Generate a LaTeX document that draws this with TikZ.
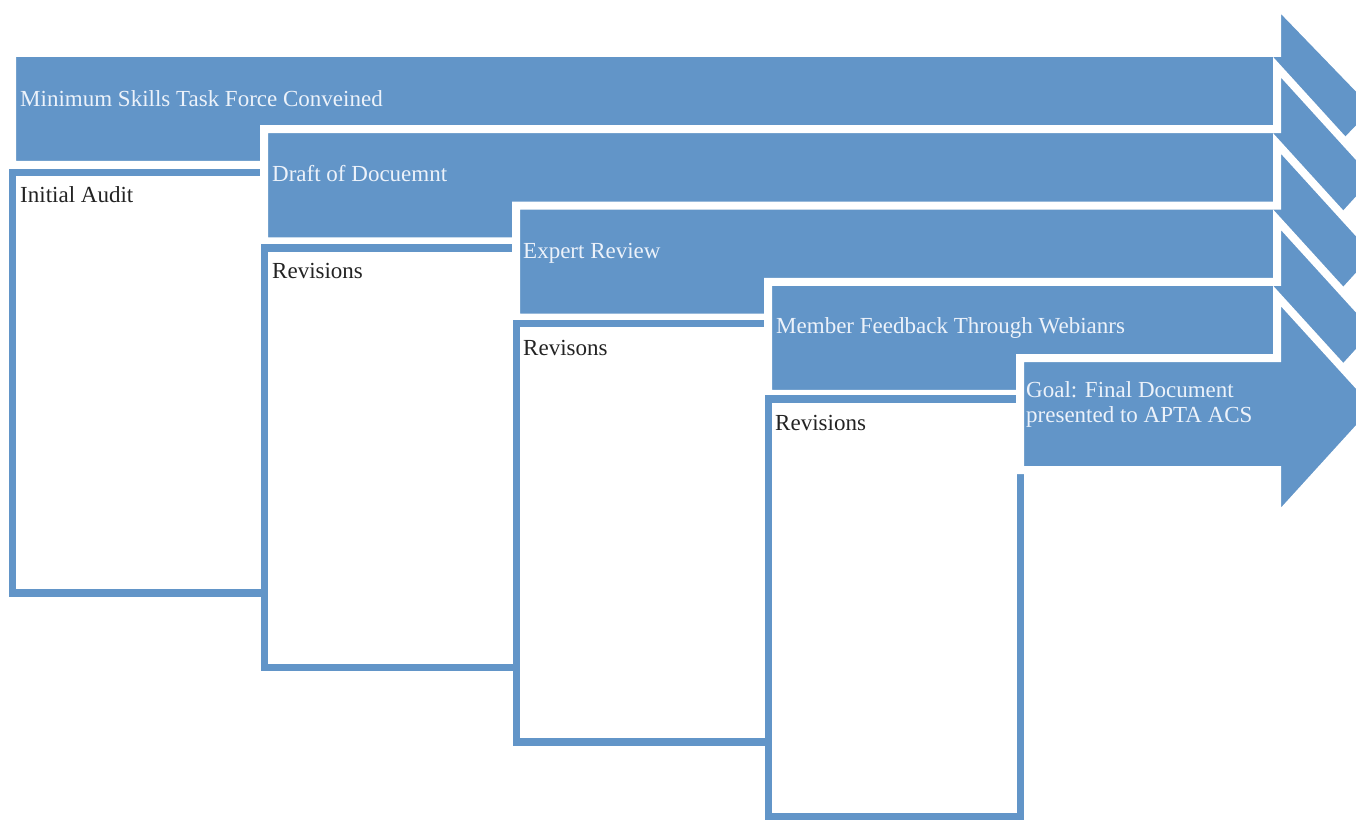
\documentclass[tikz,border=0pt]{standalone}
\usepackage{fontspec}
\setmainfont{Liberation Serif}
\definecolor{sablue}{RGB}{98,149,200}
\definecolor{satext}{RGB}{236,242,250}
\definecolor{boxtext}{RGB}{35,35,35}
\begin{document}
\begin{tikzpicture}[x=1pt,y=-1pt,
  arrowshape/.style={fill=sablue,draw=white,line width=8pt,line join=miter},
  boxshape/.style={draw=sablue,fill=white,line width=7.5pt},
  atext/.style={anchor=base west,inner sep=0pt,text=satext,font=\fontsize{23}{25}\selectfont},
  btext/.style={anchor=base west,inner sep=0pt,text=boxtext,font=\fontsize{23}{25}\selectfont}]
\useasboundingbox (0,0) rectangle (1356,821);
% arrow 1
\path[arrowshape] (12,53) -- (1277,53) -- (1277,4) -- (1378,108.5) -- (1277,213) -- (1277,165) -- (12,165) -- cycle;
\path[boxshape] (12.5,172.5) rectangle (264.5,593);
% arrow 2
\path[arrowshape] (264,129.25) -- (1277,129.25) -- (1277,67.25) -- (1378,178.25) -- (1277,289.25) -- (1277,241.25) -- (264,241.25) -- cycle;
\path[boxshape] (264.5,248) rectangle (516.5,667.5);
% arrow 3
\path[arrowshape] (516,205.5) -- (1277,205.5) -- (1277,143.5) -- (1378,254.5) -- (1277,365.5) -- (1277,317.5) -- (516,317.5) -- cycle;
\path[boxshape] (516.5,323.5) rectangle (768.5,742);
% arrow 4
\path[arrowshape] (768,281.75) -- (1277,281.75) -- (1277,219.75) -- (1378,330.75) -- (1277,441.75) -- (1277,393.75) -- (768,393.75) -- cycle;
\path[boxshape] (768.5,399) rectangle (1020.5,816.5);
% arrow 5
\path[arrowshape] (1020,358) -- (1277,358) -- (1277,296) -- (1378,407) -- (1277,518) -- (1277,470) -- (1020,470) -- cycle;
% texts
\node[atext] (t1) at (20,106.5) {Minimum Skills Task Force Conveined};
\node[atext] (t2) at (272,182) {Draft of Docuemnt};
\node[atext] (t3) at (523,258.5) {Expert Review};
\node[atext] (t4) at (776,333) {Member Feedback Through Webianrs};
\node[atext] (t5a) at (1026,397) {Goal: Final Document};
\node[atext] (t5b) at (1026,422) {presented to APTA ACS};
\node[btext] (b1) at (20,202) {Initial Audit};
\node[btext] (b2) at (272,278) {Revisions};
\node[btext] (b3) at (523,355) {Revisons};
\node[btext] (b4) at (775,430) {Revisions};
\end{tikzpicture}
\end{document}
